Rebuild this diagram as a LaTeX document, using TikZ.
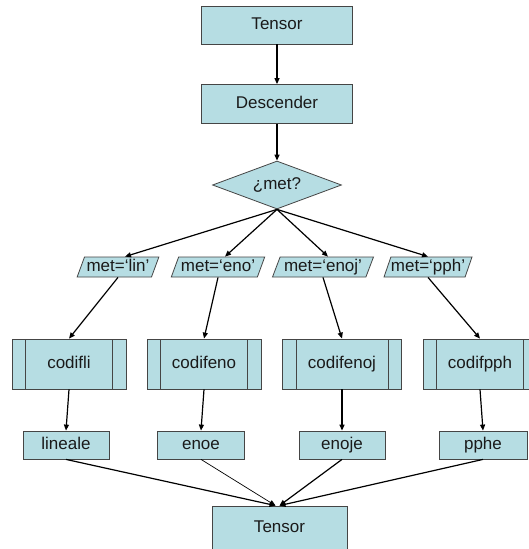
\documentclass[tikz,border=0pt]{standalone}
\usepackage{fontspec}
\setmainfont{Liberation Sans}
\usetikzlibrary{shapes.geometric,arrows.meta}
\definecolor{boxfill}{HTML}{B6DDE3}
\definecolor{boxline}{HTML}{454545}
\definecolor{txt}{HTML}{1A1A1A}
\begin{document}
\begin{tikzpicture}[x=1pt,y=-1pt,
  base/.style={draw=boxline,line width=0.8pt,fill=boxfill,text=txt,inner sep=0pt,
    text height=12pt,text depth=3.5pt,
    font=\fontsize{17}{19}\selectfont},
  rbox/.style={base,rectangle},
  dbox/.style={base,diamond,aspect=2.7},
  pbox/.style={base,trapezium,trapezium left angle=66,trapezium right angle=114,
    trapezium stretches=true,minimum height=20pt},
  sub/.style={base,rectangle,minimum height=50pt,
    path picture={
      \draw[boxline,line width=0.8pt] ([xshift=13.5pt]path picture bounding box.north west) -- ([xshift=13.5pt]path picture bounding box.south west);
      \draw[boxline,line width=0.8pt] ([xshift=-13.5pt]path picture bounding box.north east) -- ([xshift=-13.5pt]path picture bounding box.south east);}},
  arr/.style={-{Triangle[length=6pt,width=5pt]},line width=1.2pt,black}
]
\useasboundingbox (0,0) rectangle (529,549);
\clip (0,0) rectangle (529,549);
\fill[white] (0,0) rectangle (529,549);

\node[rbox,minimum width=151pt,minimum height=38pt] (t1) at (277,25) {Tensor};
\node[rbox,minimum width=151pt,minimum height=39pt] (desc) at (277,104) {Descender};
\node[dbox,minimum width=129pt,minimum height=48pt] (dia) at (277,185) {¿met?};

\node[pbox,minimum width=82pt] (plin) at (118,267) {met=‘lin’};
\node[pbox,minimum width=94pt] (peno) at (218,267) {met=‘eno’};
\node[pbox,minimum width=102pt] (penoj) at (323,267) {met=‘enoj’};
\node[pbox,minimum width=86pt] (ppph) at (428,267) {met=‘pph’};

\node[sub,minimum width=114pt] (clin) at (69,364) {codifli};
\node[sub,minimum width=114pt] (ceno) at (204,364) {codifeno};
\node[sub,minimum width=119pt] (cenoj) at (342,364) {codifenoj};
\node[sub,minimum width=114pt] (cpph) at (480,364) {codifpph};

\node[rbox,minimum width=86pt,minimum height=28pt] (rlin) at (66,445) {lineale};
\node[rbox,minimum width=87pt,minimum height=28pt] (reno) at (201,445) {enoe};
\node[rbox,minimum width=86pt,minimum height=28pt] (renoj) at (342,445) {enoje};
\node[rbox,minimum width=88pt,minimum height=28pt] (rpph) at (483,445) {pphe};

\node[rbox,minimum width=135pt,minimum height=44pt] (t2) at (279.5,528) {Tensor};

\draw[arr] (t1.south) -- (desc.north);
\draw[arr] (desc.south) -- (dia.north);

\draw[arr] (dia.south) -- ([xshift=7pt]plin.north);
\draw[arr] (dia.south) -- ([xshift=7pt]peno.north);
\draw[arr] (dia.south) -- ([xshift=5pt]penoj.north);
\draw[arr] (dia.south) -- ([xshift=0pt]ppph.north);

\draw[arr] (plin.south) -- (clin.north);
\draw[arr] (peno.south) -- (ceno.north);
\draw[arr] (penoj.south) -- (cenoj.north);
\draw[arr] (ppph.south) -- (cpph.north);

\draw[arr] (clin.south) -- (rlin.north);
\draw[arr] (ceno.south) -- (reno.north);
\draw[arr] (cenoj.south) -- (renoj.north);
\draw[arr] (cpph.south) -- (rpph.north);

\draw[arr] (rlin.south) -- ([xshift=-4pt]t2.north);
\draw[arr,line width=0.7pt] (reno.south) -- ([xshift=-4pt]t2.north);
\draw[arr] (renoj.south) -- ([xshift=0pt]t2.north);
\draw[arr] (rpph.south) -- ([xshift=0pt]t2.north);
\end{tikzpicture}
\end{document}
